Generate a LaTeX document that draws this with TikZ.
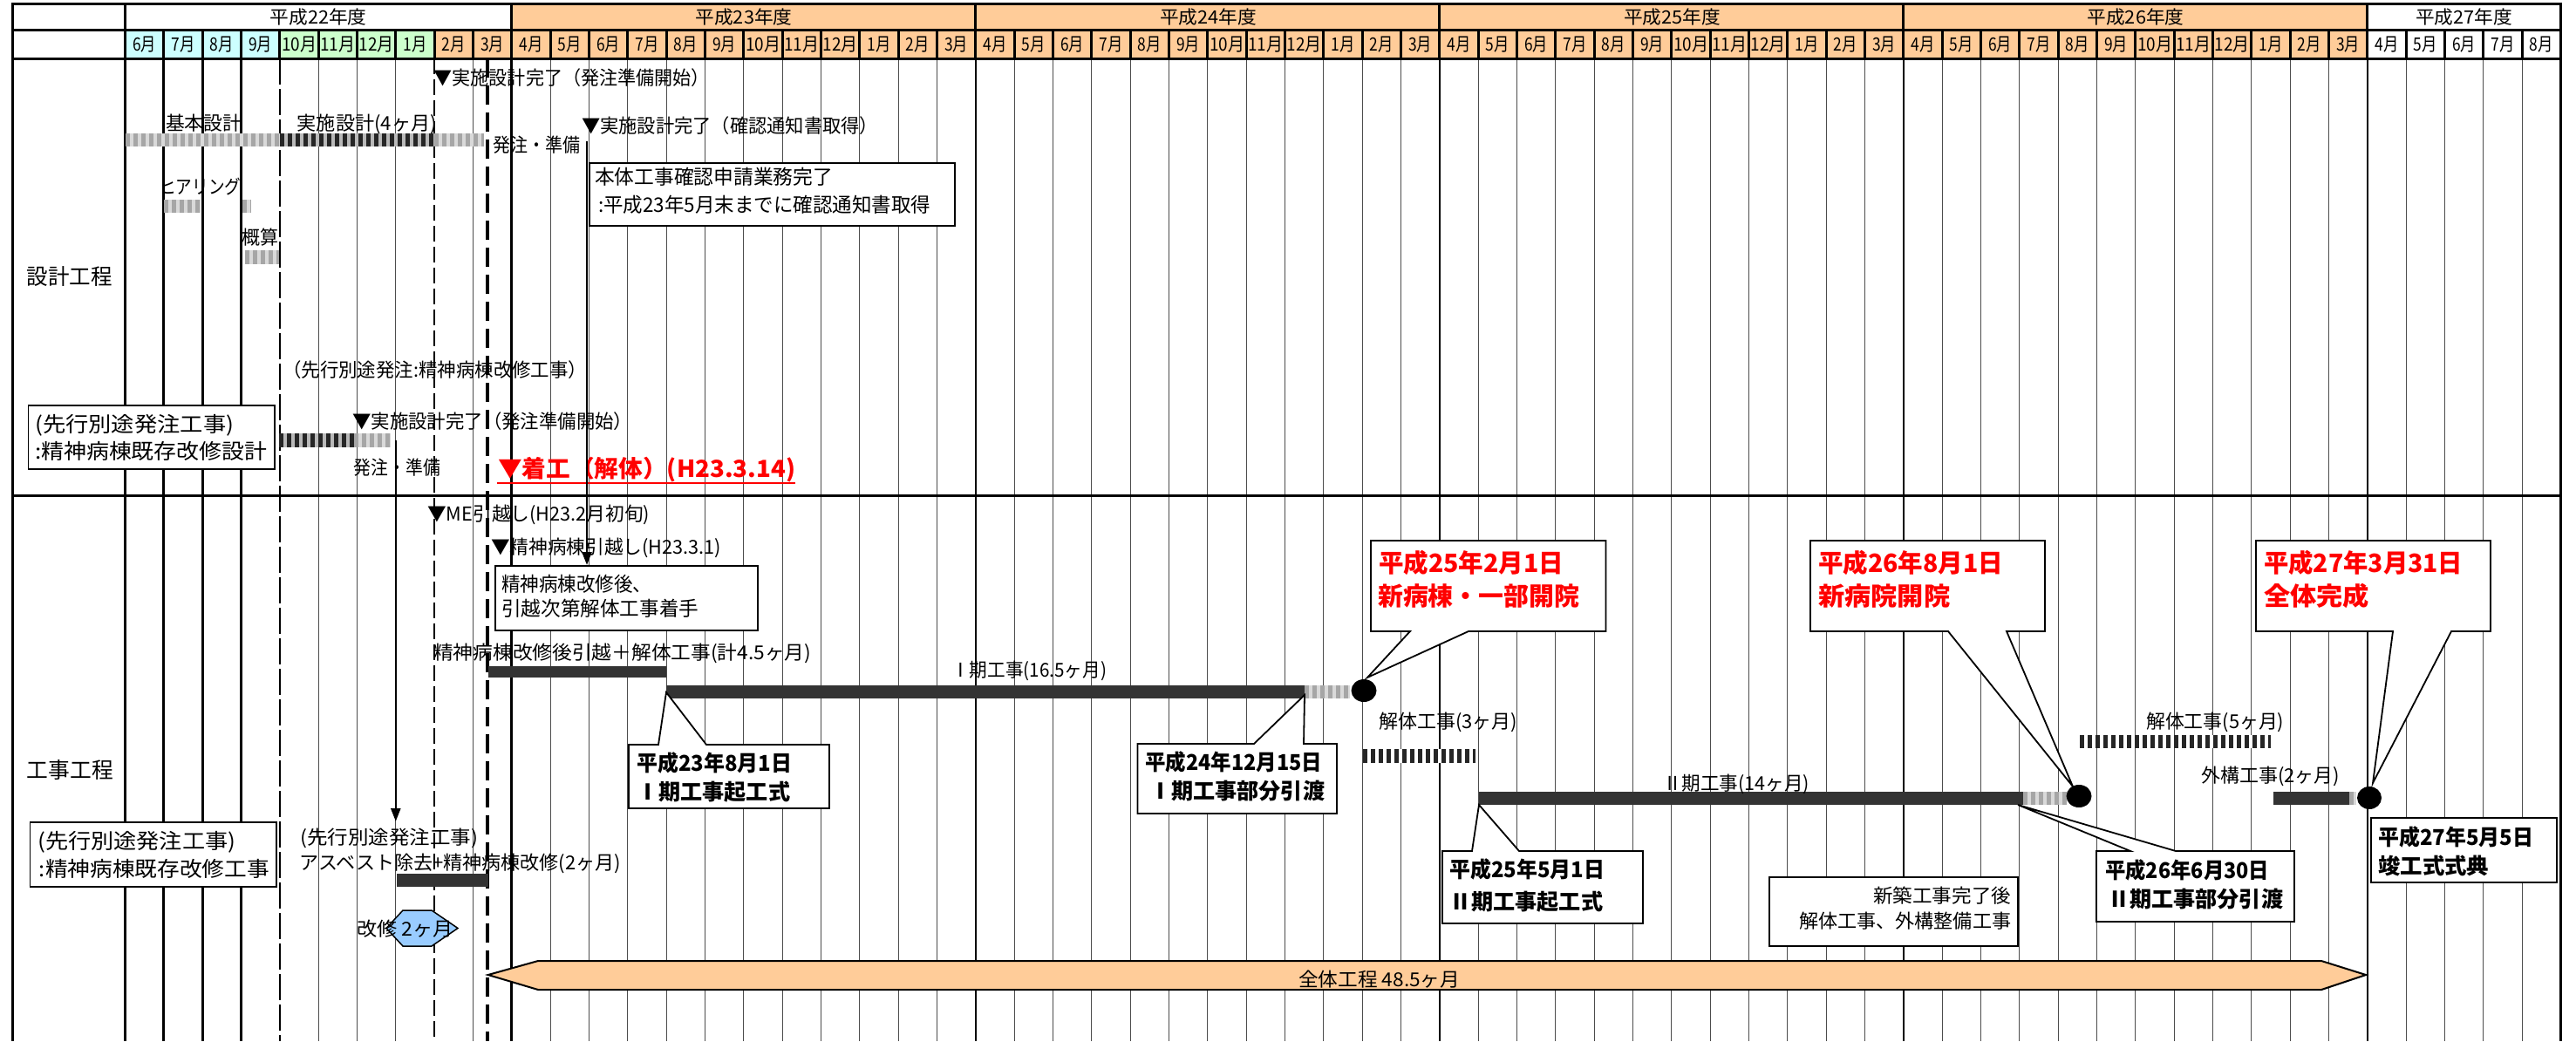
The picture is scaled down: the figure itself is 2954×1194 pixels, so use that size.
\documentclass[tikz,border=0pt]{standalone}
\usepackage{fontspec}
\setmainfont{Noto Sans CJK JP}
\usepackage{graphicx}
\usetikzlibrary{arrows.meta}
\definecolor{cyanhd}{HTML}{CCFFFF}
\definecolor{greenhd}{HTML}{CCFFCC}
\definecolor{peach}{HTML}{FFCC99}
\definecolor{hexblue}{HTML}{99CCFF}
\definecolor{bardark}{HTML}{333333}
% label: [opts]{name}{x left}{y centre}{font size}{width}{text}
\newcommand{\glab}[7][]{\node[font=\fontsize{#5pt}{#5pt}\selectfont, anchor=base west, inner sep=0pt, #1] (#2) at (#3, {#4+0.37*#5}) {\resizebox{#6pt}{\height}{#7}};}
% striped bar: {x1}{x2}{y1}{y2}{bg}{fg}
\newcommand{\stripebar}[6]{%
  \fill[#5] (#1,#3) rectangle (#2,#4);
  \pgfmathtruncatemacro\nst{(#2-#1)/9}%
  \foreach \i in {0,...,\nst}{%
    \pgfmathsetmacro\sxa{#1+\i*9}%
    \pgfmathsetmacro\sxb{min(\sxa+5,#2)}%
    \fill[#6] (\sxa,#3) rectangle (\sxb,#4);
  }%
}
\begin{document}
\begin{tikzpicture}[x=1pt,y=-1pt,
  thinln/.style={line width=1.1pt, draw=black!70},
  thickln/.style={line width=2.8pt, draw=black},
  yearln/.style={line width=2.2pt, draw=black},
  boxst/.style={fill=white, draw=black, line width=1.8pt},
  callout/.style={fill=white, draw=black, line width=1.8pt, line join=miter},
  arrowln/.style={line width=2.5pt, -{Triangle[length=15pt,width=11pt]}}]
\useasboundingbox (0,0) rectangle (2954,1194);
\fill[white] (0,0) rectangle (2954,1194);
% ---------- header fills ----------
\fill[peach] (586.8,4.5) rectangle (2714.8,34.5);
\foreach \m in {0,...,62}{
  \pgfmathsetmacro\xa{143.5+44.333*\m}
  \pgfmathsetmacro\xb{143.5+44.333*(\m+1)}
  \ifnum\m<4 \def\cc{cyanhd}\else\ifnum\m<8 \def\cc{greenhd}\else\ifnum\m<58 \def\cc{peach}\else\def\cc{white}\fi\fi\fi
  \fill[\cc] (\xa,34.5) rectangle (\xb,67);
}
% ---------- body grid ----------
\foreach \m in {1,...,62}{
  \pgfmathsetmacro\xx{143.5+44.333*\m}
  \ifnum\m=4 \else\ifnum\m=8 \else
  \draw[thinln] (\xx,67) -- (\xx,1194);
  \fi\fi
}
\foreach \m in {0,1,2,3,10}{
  \pgfmathsetmacro\xx{143.5+44.333*\m}
  \draw[thickln] (\xx,67) -- (\xx,1194);
}
\foreach \m in {22,34,46,58}{
  \pgfmathsetmacro\xx{143.5+44.333*\m}
  \draw[yearln] (\xx,67) -- (\xx,1194);
}
\draw[line width=2.6pt, dash pattern=on 30pt off 5pt] (320.8,67) -- (320.8,1194);
\draw[line width=2pt, dash pattern=on 18pt off 6pt] (498.1,67) -- (498.1,1194);
\draw[line width=3.4pt, dash pattern=on 22pt off 9pt] (559,67) -- (559,1194);
% header lines
\foreach \m in {0,...,63}{
  \pgfmathsetmacro\xx{143.5+44.333*\m}
  \draw[thickln] (\xx,34.5) -- (\xx,67);
}
\foreach \m in {0,10,22,34,46,58,63}{
  \pgfmathsetmacro\xx{143.5+44.333*\m}
  \draw[thickln] (\xx,4.5) -- (\xx,34.5);
}
\draw[line width=3pt] (13,4.5) -- (2938,4.5);
\draw[line width=3pt] (13,34.5) -- (2938,34.5);
\draw[line width=3pt] (13,67) -- (2938,67);
\draw[line width=3pt] (13,568) -- (2938,568);
\draw[line width=3pt] (14.5,3) -- (14.5,1194);
\draw[line width=3pt] (2936.5,3) -- (2936.5,1194);
% ---------- header text ----------
\glab[anchor=base]{y22}{365.2}{20}{21}{111}{平成22年度}
\glab[anchor=base]{y23}{853}{20}{21}{111}{平成23年度}
\glab[anchor=base]{y24}{1385.5}{20}{21}{111}{平成24年度}
\glab[anchor=base]{y25}{1917.5}{20}{21}{111}{平成25年度}
\glab[anchor=base]{y26}{2449}{20}{21}{111}{平成26年度}
\glab[anchor=base]{y27}{2825.7}{20}{21}{111}{平成27年度}
\foreach \m in {0,...,62}{
  \pgfmathtruncatemacro\mn{mod(\m+5,12)+1}
  \pgfmathsetmacro\xc{143.5+44.333*(\m+0.5)}
  \ifnum\mn>9 \def\ww{40}\else\def\ww{27}\fi
  \node[font=\fontsize{21pt}{21pt}\selectfont, inner sep=0pt, anchor=base] (mon\m) at (\xc, {50.5+0.37*21}) {\resizebox{\ww pt}{\height}{\mn 月}};
}
% ---------- design section ----------
\stripebar{143.5}{320.8}{152.7}{168.3}{gray!30}{gray!70}
\stripebar{320.8}{498}{152.7}{168.3}{gray!55}{black!85}
\stripebar{498}{555}{152.7}{168.3}{gray!30}{gray!70}
\stripebar{187.5}{229.6}{229}{244}{gray!30}{gray!70}
\stripebar{277.5}{287.8}{229}{244}{gray!30}{gray!70}
\stripebar{281}{319.6}{287}{303}{gray!30}{gray!70}
\stripebar{319.6}{405.7}{497}{513}{gray!55}{black!85}
\stripebar{405.7}{447.8}{497}{513}{gray!30}{gray!70}
\draw[boxst] (676,187) rectangle (1095,259);
\draw[boxst] (32.5,465) rectangle (314.6,538);
\glab{d1}{497.5}{89}{22}{316}{▼実施設計完了（発注準備開始）}
\glab{d2}{190}{141}{22}{87}{基本設計}
\glab{d3}{340.6}{141}{22}{160}{実施設計(4ヶ月)}
\glab{d5}{565}{166}{22}{100}{発注・準備}
\glab{d6}{667}{144}{22}{340}{▼実施設計完了（確認通知書取得）}
\glab{d8a}{682}{203}{23}{273}{本体工事確認申請業務完了}
\glab{d8b}{686}{235}{23}{381}{:平成23年5月末までに確認通知書取得}
\glab{d9}{183}{214}{22}{93}{ヒアリング}
\glab{d10}{277.5}{272.5}{22}{42}{概算}
\glab{d11}{30.6}{317}{25}{98}{設計工程}
\glab{d12}{324}{424}{22}{349}{（先行別途発注:精神病棟改修工事）}
\glab{d13a}{40}{487}{24}{228}{(先行別途発注工事)}
\glab{d13b}{40}{518}{24}{266}{:精神病棟既存改修設計}
\glab{d14}{404}{483}{22}{321}{▼実施設計完了（発注準備開始）}
\glab{d16}{405.7}{536}{22}{99}{発注・準備}
\glab[text=red]{d17}{571}{538}{27}{341}{\bfseries ▼着工（解体）(H23.3.14)}
\draw[red, line width=2.5pt] (570,554) -- (912,554);
% ---------- construction section ----------
\fill[bardark] (560,764) rectangle (764,777);
\fill[bardark] (764,786) rectangle (1496,801);
\stripebar{1496}{1548}{786}{801}{gray!30}{gray!70}
\stripebar{1563}{1692}{859}{875}{white}{black!85}
\fill[bardark] (1696,908) rectangle (2320,923);
\stripebar{2320}{2370}{908}{923}{gray!30}{gray!70}
\stripebar{2385}{2604}{843}{858}{white}{black!85}
\fill[bardark] (2607,908) rectangle (2694.5,923);
\stripebar{2694}{2702}{908}{923}{gray!30}{gray!70}
\fill[bardark] (454.6,1002) rectangle (559.7,1017);
\draw[boxst] (568,649) rectangle (869,723);
\draw[boxst] (2719,938) rectangle (2932,1012);
\draw[boxst] (2029,1006) rectangle (2314,1085);
\draw[boxst] (34.4,943) rectangle (317,1017);
% callouts
\draw[callout] (721,854) -- (755,854) -- (764,794) -- (810,854) -- (951,854) -- (951,927) -- (721,927) -- cycle;
\draw[callout] (1304.5,853) -- (1438,853) -- (1496,797) -- (1495,853) -- (1533,853) -- (1533,933) -- (1304.5,933) -- cycle;
\draw[callout] (1654,976) -- (1688,976) -- (1696,923) -- (1742,976) -- (1884,976) -- (1884,1059) -- (1654,1059) -- cycle;
\draw[callout] (2404,976) -- (2443,976) -- (2314,923) -- (2495,976) -- (2631,976) -- (2631,1057) -- (2404,1057) -- cycle;
\draw[callout] (1572,620) -- (1841.5,620) -- (1841.5,724) -- (1684,724) -- (1568,777) -- (1617,724) -- (1572,724) -- cycle;
\draw[callout] (2076,620) -- (2345,620) -- (2345,724) -- (2301,724) -- (2377,902) -- (2234,724) -- (2076,724) -- cycle;
\draw[callout] (2587,620) -- (2856,620) -- (2856,724) -- (2811,724) -- (2721,898) -- (2744,724) -- (2587,724) -- cycle;
% milestones
\fill[black] (1564,792) ellipse [x radius=14.5pt, y radius=13pt];
\fill[black] (2384,913) ellipse [x radius=14.5pt, y radius=13pt];
\fill[black] (2717,915) ellipse [x radius=14pt, y radius=13pt];
% hexagon and whole-schedule arrow
\filldraw[fill=hexblue, draw=black, line width=1.5pt] (443,1064.5) -- (462,1044) -- (495,1044) -- (525,1064.5) -- (495,1085) -- (462,1085) -- cycle;
\filldraw[fill=peach, draw=black, line width=2pt] (559.7,1118) -- (617,1102) -- (2662,1102) -- (2713,1118) -- (2662,1135) -- (617,1135) -- cycle;
% arrows
\coordinate (a1s) at (673,162);
\coordinate (a1e) at (673,648);
\draw[arrowln] (a1s) -- (a1e);
\coordinate (a2s) at (453.8,505);
\coordinate (a2e) at (453.8,942);
\draw[arrowln] (a2s) -- (a2e);
% texts
\glab{c1}{490}{589}{22}{255}{▼ME引越し(H23.2月初旬)}
\glab{c2}{563}{627}{22}{264}{▼精神病棟引越し(H23.3.1)}
\glab{c3a}{575}{670}{23}{172}{精神病棟改修後、}
\glab{c3b}{575}{698}{23}{226}{引越次第解体工事着手}
\glab{c4}{497}{748}{22}{433}{精神病棟改修後引越＋解体工事(計4.5ヶ月)}
\glab{c6}{1091}{768}{22}{178}{Ⅰ期工事(16.5ヶ月)}
\glab{c8a}{730}{875}{25}{178}{\bfseries 平成23年8月1日}
\glab{c8b}{730}{908}{25}{176}{\bfseries Ⅰ期工事起工式}
\glab{c9a}{1313}{874}{25}{203}{\bfseries 平成24年12月15日}
\glab{c9b}{1318}{907}{25}{201}{\bfseries Ⅰ期工事部分引渡}
\glab[text=red]{c10a}{1581}{646}{29}{212}{\bfseries 平成25年2月1日}
\glab[text=red]{c10b}{1580}{684}{29}{231}{\bfseries 新病棟・一部開院}
\glab{c11}{1581}{827}{22}{159}{解体工事(3ヶ月)}
\glab{c12}{1907}{898}{22}{168}{Ⅱ期工事(14ヶ月)}
\glab{c14a}{1662}{997}{25}{178}{\bfseries 平成25年5月1日}
\glab{c14b}{1662}{1034}{25}{176}{\bfseries Ⅱ期工事起工式}
\glab{c15a}{2414}{998}{25}{188}{\bfseries 平成26年6月30日}
\glab{c15b}{2417}{1031}{25}{201}{\bfseries Ⅱ期工事部分引渡}
\glab[text=red]{c16a}{2085}{646}{29}{212}{\bfseries 平成26年8月1日}
\glab[text=red]{c16b}{2085}{684}{29}{151}{\bfseries 新病院開院}
\glab[text=red]{c17a}{2596}{646}{29}{228}{\bfseries 平成27年3月31日}
\glab[text=red]{c17b}{2596}{684}{29}{121}{\bfseries 全体完成}
\glab{c18}{2461}{827}{22}{158}{解体工事(5ヶ月)}
\glab{c19}{2524}{889}{22}{159}{外構工事(2ヶ月)}
\glab{c20a}{2727}{960}{25}{178}{\bfseries 平成27年5月5日}
\glab{c20b}{2727}{993}{25}{127}{\bfseries 竣工式式典}
\glab{c21a}{2148}{1027}{22}{158}{新築工事完了後}
\glab{c21b}{2063}{1056}{22}{243}{解体工事、外構整備工事}
\glab{c22}{30.6}{883}{25}{99}{工事工程}
\glab{c23a}{43}{965}{24}{227}{(先行別途発注工事)}
\glab{c23b}{44.8}{997}{24}{264}{:精神病棟既存改修工事}
\glab{c24}{344}{960}{22}{204}{(先行別途発注工事)}
\glab{c25}{343}{989}{22}{369}{アスベスト除去+精神病棟改修(2ヶ月)}
\glab{c28}{409}{1065}{22}{110.5}{改修 2ヶ月}
\glab{c29}{1489}{1123}{22}{185}{全体工程 48.5ヶ月}
\end{tikzpicture}
\end{document}
